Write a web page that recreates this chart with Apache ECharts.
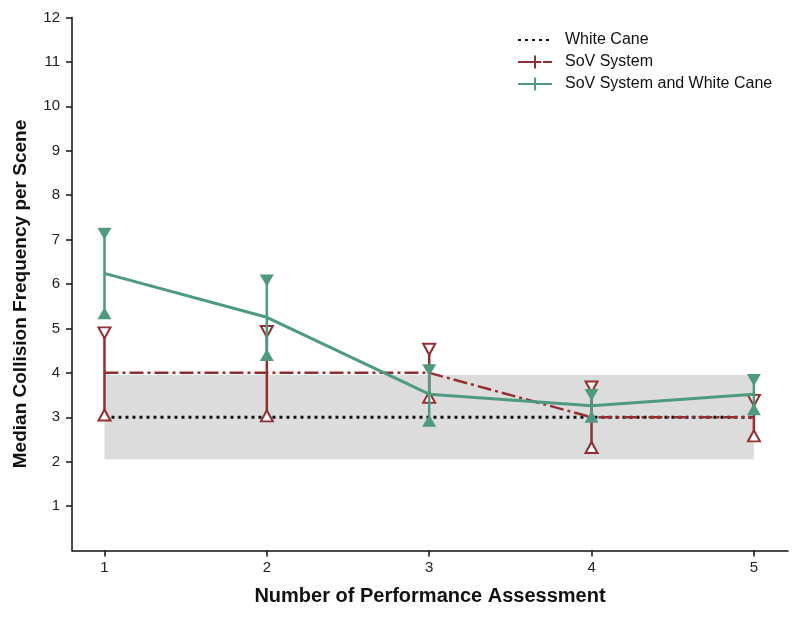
<!DOCTYPE html>
<html>
<head>
<meta charset="utf-8">
<script src="https://cdn.jsdelivr.net/npm/echarts@6/dist/echarts.min.js"></script>
<style>html,body{margin:0;padding:0;background:#fff}#c{width:800px;height:627px}</style>
</head>
<body>
<div id="c"></div>
<script>
var assessments = [1, 2, 3, 4, 5];
var whiteCane = [3, 3, 3, 3, 3];
var sov = [4, 4, 4, 3, 3];
var sovUpper = [4.9, 4.93, 4.53, 3.68, 3.38];
var sovLower = [3.05, 3.03, 3.45, 2.32, 2.58];
var sovCane = [6.24, 5.25, 3.52, 3.26, 3.52];
var sovCaneUpper = [7.13, 6.08, 4.06, 3.5, 3.84];
var sovCaneLower = [5.34, 4.4, 2.92, 3.01, 3.18];
var bandX = [1, 5];
var bandY = [2.05, 3.95];
var yTicks = [1, 2, 3, 4, 5, 6, 7, 8, 9, 10, 11, 12];

var RED = '#922f30', GREEN = '#4e9a80';
var FONT = 'Liberation Sans, Arial, sans-serif';

function pairs(vals) { return assessments.map(function (x, i) { return [x, vals[i]]; }); }
function errData(lo, hi) { return assessments.map(function (x, i) { return [x, lo[i], hi[i]]; }); }
function errRender(color) {
  return function (params, api) {
    var p1 = api.coord([api.value(0), api.value(1)]);
    var p2 = api.coord([api.value(0), api.value(2)]);
    return { type: 'line', shape: { x1: p1[0], y1: p1[1], x2: p2[0], y2: p2[1] },
      style: { stroke: color, lineWidth: 2.5 } };
  };
}
var tickPath = 'path://M5,0 L5,10 M0,5 L10,5';

var chart = echarts.init(document.getElementById('c'), null, { renderer: 'canvas' });
chart.setOption({
  animation: false,
  textStyle: { fontFamily: FONT },
  grid: { left: 72, right: 12, top: 17.5, bottom: 76.5, containLabel: false },
  legend: {
    orient: 'vertical', left: 512, top: 27, itemWidth: 34, itemHeight: 16, itemGap: 6,
    textStyle: { fontSize: 16, color: '#111', fontFamily: FONT, padding: [0, 0, 0, 8] },
    data: ['White Cane', 'SoV System', 'SoV System and White Cane']
  },
  xAxis: {
    type: 'value', min: 0.8, max: 5.21,
    name: 'Number of Performance Assessment', nameLocation: 'middle', nameGap: 36,
    nameTextStyle: { fontSize: 20, fontWeight: 'bold', color: '#111' },
    axisLine: { lineStyle: { color: '#111', width: 1.5 } },
    axisTick: { customValues: assessments, length: 6, lineStyle: { color: '#111', width: 1.5 } },
    axisLabel: { customValues: assessments, fontSize: 15, color: '#222', margin: 10 },
    splitLine: { show: false }
  },
  yAxis: {
    type: 'value', min: 0, max: 12,
    name: 'Median Collision Frequency per Scene', nameLocation: 'middle', nameGap: 42,
    nameTextStyle: { fontSize: 19, fontWeight: 'bold', color: '#111', padding: [0, 20, 0, 0] },
    axisLine: { show: true, lineStyle: { color: '#111', width: 1.5 } },
    axisTick: { show: true, customValues: yTicks, length: 6, lineStyle: { color: '#111', width: 1.5 } },
    axisLabel: { customValues: yTicks, fontSize: 15, color: '#222', margin: 12 },
    splitLine: { show: false }
  },
  series: [
    {
      name: 'White Cane', type: 'line', data: pairs(whiteCane), showSymbol: false, symbol: 'circle',
      itemStyle: { color: '#111', opacity: 0 },
      lineStyle: { color: '#111', width: 3, type: [3, 4] },
      markArea: {
        silent: true, itemStyle: { color: '#dcdcdc' },
        data: [[{ coord: [bandX[0], bandY[0]] }, { coord: [bandX[1], bandY[1]] }]]
      },
      z: 2
    },
    {
      name: 'SoV System', type: 'line', data: pairs(sov), showSymbol: false, symbol: tickPath,
      itemStyle: { color: RED, borderColor: RED, borderWidth: 2 },
      lineStyle: { color: RED, width: 2.5, type: [14, 4, 3, 4] }, z: 3
    },
    { name: 'sovErr', type: 'custom', data: errData(sovLower, sovUpper), renderItem: errRender(RED), z: 3 },
    { name: 'sovUp', type: 'scatter', data: pairs(sovUpper), symbol: 'triangle', symbolRotate: 180, symbolSize: [12, 11],
      itemStyle: { color: '#fff', borderColor: RED, borderWidth: 2, opacity: 1 }, z: 4 },
    { name: 'sovLo', type: 'scatter', data: pairs(sovLower), symbol: 'triangle', symbolSize: [12, 11],
      itemStyle: { color: '#fff', borderColor: RED, borderWidth: 2, opacity: 1 }, z: 4 },
    {
      name: 'SoV System and White Cane', type: 'line', data: pairs(sovCane), showSymbol: false, symbol: tickPath,
      itemStyle: { color: GREEN, borderColor: GREEN, borderWidth: 2 },
      lineStyle: { color: GREEN, width: 3 }, z: 5
    },
    { name: 'caneErr', type: 'custom', data: errData(sovCaneLower, sovCaneUpper), renderItem: errRender(GREEN), z: 5 },
    { name: 'caneUp', type: 'scatter', data: pairs(sovCaneUpper), symbol: 'triangle', symbolRotate: 180, symbolSize: [14, 12],
      itemStyle: { color: GREEN, opacity: 1 }, z: 6 },
    { name: 'caneLo', type: 'scatter', data: pairs(sovCaneLower), symbol: 'triangle', symbolSize: [14, 12],
      itemStyle: { color: GREEN, opacity: 1 }, z: 6 }
  ]
});
</script>
</body>
</html>
